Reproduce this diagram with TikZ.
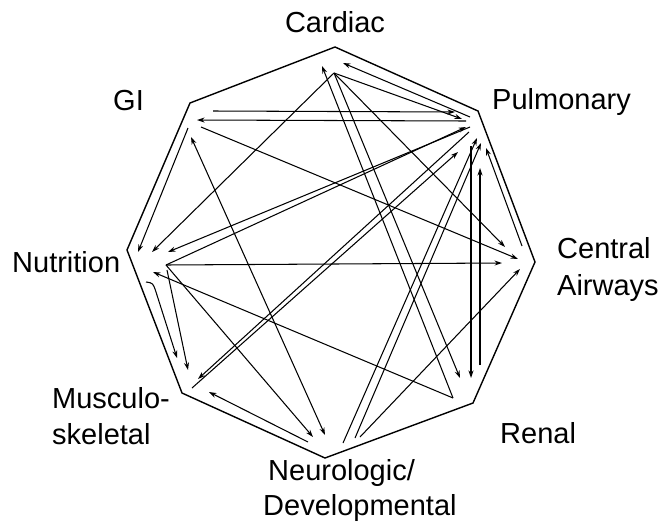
\documentclass[tikz,border=0pt]{standalone}
\usepackage{fontspec}
\setmainfont{Liberation Sans}
\usetikzlibrary{arrows.meta}
\begin{document}
\begin{tikzpicture}[x=1pt,y=-1pt,
  link/.style={line width=1.05pt,-{Stealth[length=7.5pt,width=5pt]}},
  blink/.style={line width=1.05pt,{Stealth[length=7.5pt,width=5pt]}-{Stealth[length=7.5pt,width=5pt]}},
  rim/.style={line width=1.4pt,line join=miter},
  lbl/.style={font=\fontsize{29}{35}\selectfont,inner sep=0pt}]
\useasboundingbox (0,0) rectangle (671,525);
% octagon
\coordinate (vC) at (335,47);
\coordinate (vP) at (478,111);
\coordinate (vCA) at (535,262);
\coordinate (vR) at (473,403);
\coordinate (vN) at (325,458);
\coordinate (vM) at (182,393);
\coordinate (vNU) at (127,250);
\coordinate (vGI) at (190,103);
\draw[rim] (vC)--(vP)--(vCA)--(vR)--(vN)--(vM)--(vNU)--(vGI)--cycle;
% labels
\node[lbl,anchor=base] (tC) at (335,32) {Cardiac};
\node[lbl,anchor=base west] (tP) at (492,109) {Pulmonary};
\node[lbl,anchor=base west] (tGI) at (113,110) {GI};
\node[lbl,anchor=base west] (tCA1) at (557,258) {Central};
\node[lbl,anchor=base west] (tCA2) at (557,295) {Airways};
\node[lbl,anchor=base west] (tNU) at (12,272) {Nutrition};
\node[lbl,anchor=base west] (tM1) at (52,408) {Musculo-};
\node[lbl,anchor=base west] (tM2) at (52,444) {skeletal};
\node[lbl,anchor=base west] (tR) at (500,443) {Renal};
\node[lbl,anchor=base west] (tN1) at (268,480) {Neurologic/};
\node[lbl,anchor=base west] (tN2) at (263,515) {Developmental};
% Cardiac end points
\coordinate (cO) at (334,73);
\coordinate (cA1) at (322,66);
\coordinate (cA2) at (343,63);
% Pulmonary end points
\coordinate (pS1) at (470,117);
\coordinate (pS2) at (466,121);
\coordinate (pS3) at (470,127);
\coordinate (pS4) at (469,132);
\coordinate (pS5) at (471,146);
\coordinate (pA1) at (455,112);
\coordinate (pA2) at (462,119);
\coordinate (pA3) at (466,127);
\coordinate (pA4) at (477,138);
\coordinate (pA5) at (481,143);
\coordinate (pA6) at (458,152);
\coordinate (pA7) at (486,148);
\coordinate (pA8) at (480,168);
% GI end points
\coordinate (gO) at (201,127);
\coordinate (gS1) at (213,111);
\coordinate (gS2) at (188,128);
\coordinate (gA1) at (197,120);
\coordinate (gA2) at (191,137);
% Nutrition end points
\coordinate (nuO) at (166,265);
\coordinate (nuO2) at (167,270);
\coordinate (nuS1) at (146,282);
\coordinate (nuA1) at (138,252);
\coordinate (nuA2) at (152,252);
\coordinate (nuA3) at (168,252);
\coordinate (nuA4) at (153,272);
% Musculoskeletal end points
\coordinate (mO) at (192,388);
\coordinate (mA1) at (177,358);
\coordinate (mA2) at (188,370);
\coordinate (mA3) at (198,379);
\coordinate (mA4) at (209,392);
% Neurologic end points
\coordinate (nS1) at (308,442);
\coordinate (nO1) at (343,443);
\coordinate (nO2) at (355,438);
\coordinate (nO3) at (360,437);
\coordinate (nA1) at (313,437);
\coordinate (nA2) at (325,435);
% Renal end points
\coordinate (rO) at (453,398);
\coordinate (rO2) at (480,365);
\coordinate (rA1) at (460,378);
\coordinate (rA2) at (471,378);
% Central airways end points
\coordinate (caO) at (522,246);
\coordinate (caA1) at (505,247);
\coordinate (caA2) at (518,259);
\coordinate (caA3) at (502,263);
\coordinate (caA4) at (520,269);
% connectors
\draw[link] (pS1) -- (cA2);
\draw[link] (cO) -- (pA2);
\draw[link] (gS1) -- (pA1);
\draw[link] (pS2) -- (gA1);
\draw[link] (gS2) -- (nuA1);
\draw[link] (cO) -- (nuA2);
\draw[link] (pS3) -- (nuA3);
\draw[link] (nuO) -- (pA3);
\draw[link] (rO) -- (nuA4);
\draw[link] (nuO) -- (caA3);
\draw[link] (nuO) -- (nA1);
\draw[blink] (gA2) -- (nA2);
\draw[link] (nuS1) .. controls (153,283) .. (156,292) -- (mA1);
\draw[link] (nuO2) -- (mA2);
\draw[link] (pS4) -- (mA3);
\draw[link] (mO) -- (pA6);
\draw[link] (nS1) -- (mA4);
\draw[link] (nO1) -- (pA4);
\draw[link] (nO2) -- (pA5);
\draw[link] (nO3) -- (caA4);
\draw[link] (cO) -- (rA1);
\draw[link] (rO) -- (cA1);
\draw[link] (cO) -- (caA1);
\draw[link] (gO) -- (caA2);
\draw[link] (caO) -- (pA7);
\draw[link] (pS5) -- (rA2);
\draw[link] (rO2) -- (pA8);
\end{tikzpicture}
\end{document}
